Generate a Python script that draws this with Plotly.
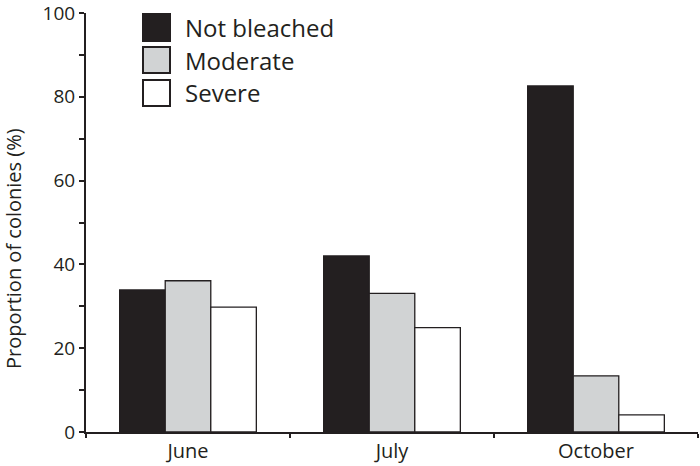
import plotly.graph_objects as go

months = ["June", "July", "October"]
not_bleached = [33.9, 42.0, 82.6]
moderate = [36.1, 33.1, 13.4]
severe = [29.8, 24.9, 4.1]
series_names = ["Not bleached", "Moderate", "Severe"]
series_colors = ["#231f20", "#d1d3d4", "#ffffff"]
y_ticks = [0, 10, 20, 30, 40, 50, 60, 70, 80, 90, 100]
y_labels = ["0", "", "20", "", "40", "", "60", "", "80", "", "100"]

W, H = 700, 466
L, R, T, B = 86, 2, 13, 34
PW, PH = W - L - R, H - T - B
FONT = "Open Sans"
INK = "#231f20"

def px(x):
    return (x - L) / PW

def py(y):
    return (H - B - y) / PH

fig = go.Figure()
xs = list(range(len(months)))
for name, vals, col in zip(series_names, [not_bleached, moderate, severe], series_colors):
    fig.add_bar(x=xs, y=vals, name=name, marker=dict(color=col, line=dict(color=INK, width=1.3)),
                showlegend=False)

shapes = []
annotations = []
rows = [(14, 41), (47, 73), (80, 106)]
for (top, bot), name, col in zip(rows, series_names, series_colors):
    shapes.append(dict(type="rect", xref="paper", yref="paper", x0=px(143), x1=px(170),
                       y0=py(bot), y1=py(top), fillcolor=col, line=dict(color=INK, width=2)))
    annotations.append(dict(xref="paper", yref="paper", x=px(183), y=py((top + bot) / 2),
                            text=name, showarrow=False, xanchor="left", yanchor="middle",
                            font=dict(family=FONT, size=24, color=INK)))

annotations.append(dict(xref="paper", yref="paper", x=px(14), y=py(249), text="Proportion of colonies (%)",
                        textangle=-90, showarrow=False, xanchor="center", yanchor="middle",
                        font=dict(family=FONT, size=20, color=INK)))

fig.update_layout(
    width=W, height=H, margin=dict(l=L, r=R, t=T, b=B),
    plot_bgcolor="white", paper_bgcolor="white",
    barmode="group", bargap=0.33, bargroupgap=0,
    shapes=shapes, annotations=annotations,
    font=dict(family=FONT, color=INK),
)
fig.update_xaxes(range=[-0.5, 2.5], tickmode="array", tickvals=xs, ticktext=months, ticks="",
                 showline=True, linecolor=INK, linewidth=2, showgrid=False, zeroline=False,
                 tickfont=dict(family=FONT, size=20, color=INK), automargin=False,
                 ticklabeloverflow="allow",
                 minor=dict(tickmode="array", tickvals=[-0.5, 0.5, 1.5, 2.5], ticks="outside",
                            ticklen=4, tickwidth=2, tickcolor=INK, showgrid=False))
fig.update_yaxes(range=[0, 100], tickmode="array", tickvals=y_ticks, ticktext=y_labels, ticks="outside",
                 ticklen=5, tickwidth=2, tickcolor=INK, showline=True, linecolor=INK, linewidth=2,
                 showgrid=False, zeroline=False, automargin=False, ticklabeloverflow="allow",
                 tickfont=dict(family=FONT, size=19, color=INK))

fig.write_html("out.html", config={"displayModeBar": False},
               post_script="document.body.style.margin='0';document.body.style.overflow='hidden';")
